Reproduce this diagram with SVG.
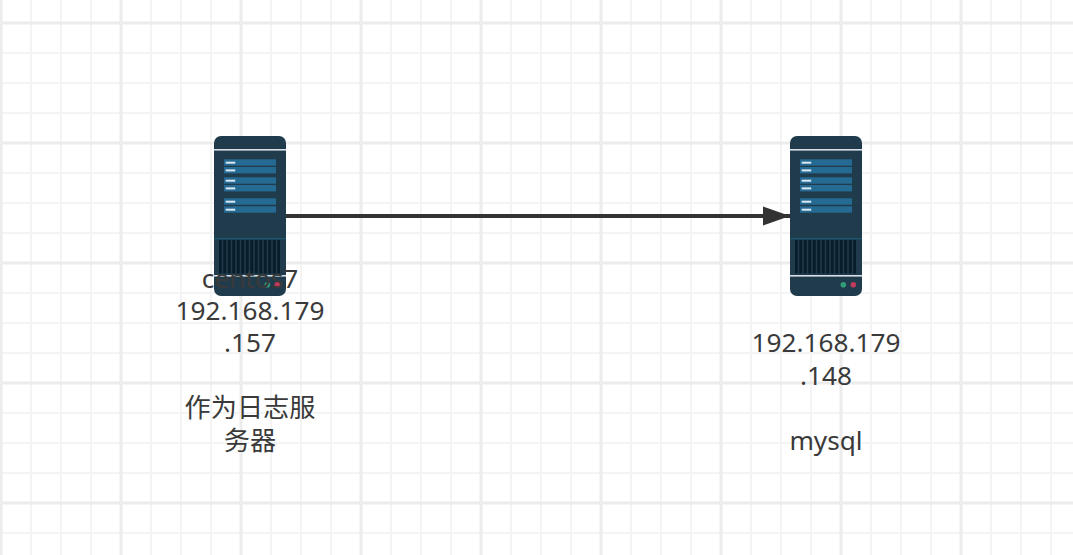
<svg xmlns="http://www.w3.org/2000/svg" width="1073" height="555" viewBox="0 0 1073 555">
<style>
.minor{stroke:#f4f4f4;stroke-width:2;fill:none}
.major{stroke:#ececec;stroke-width:3;fill:none}
.case{fill:#203c4c}
.bar{fill:#256a93}
.tick{fill:#dbe9f2}
.sep{fill:#d7dfe5}
.vent{fill:#081d2c}
.label{font-family:"Noto Sans","Noto Sans CJK SC",sans-serif;font-size:26.2px;fill:#3a3a3a;text-anchor:middle}
</style>
<defs>
<g id="srv">
<rect class="case" x="0" y="0" width="72" height="160" rx="7"/>
<rect class="sep" x="0" y="13" width="72" height="1.6"/>
<g id="bars">
<rect class="bar" x="10" y="23.300" width="52" height="6.400"/><rect class="tick" x="11.700" y="25.700" width="9.500" height="2"/>
<rect class="bar" x="10" y="31" width="52" height="6.400"/><rect class="tick" x="11.700" y="33.400" width="9.500" height="2"/>
<rect class="bar" x="10" y="41.300" width="52" height="6.400"/><rect class="tick" x="11.700" y="43.700" width="9.500" height="2"/>
<rect class="bar" x="10" y="49" width="52" height="6.400"/><rect class="tick" x="11.700" y="51.400" width="9.500" height="2"/>
<rect class="bar" x="10" y="62.300" width="52" height="6.400"/><rect class="tick" x="11.700" y="64.700" width="9.500" height="2"/>
<rect class="bar" x="10" y="70.300" width="52" height="6.400"/><rect class="tick" x="11.700" y="72.700" width="9.500" height="2"/>
</g>
<rect x="0" y="102" width="72" height="1.200" fill="#1d5673"/>
<rect class="vent" x="5" y="104" width="61" height="33.500"/>
<path d="M8.500 104V138M13 104V138M17.500 104V138M22 104V138M26.500 104V138M31 104V138M35.500 104V138M40 104V138M44.500 104V138M49 104V138M53.500 104V138M58 104V138M62.500 104V138" stroke="#203c4c" stroke-width="1.500" fill="none"/>
<rect class="sep" x="0" y="139" width="72" height="1.600"/>
<circle cx="53.300" cy="148.700" r="2.800" fill="#2f9e77"/>
<circle cx="63.300" cy="148.700" r="2.800" fill="#c0395a"/>
</g>
<marker id="arr" markerUnits="userSpaceOnUse" markerWidth="28" markerHeight="20" refX="27" refY="10" orient="auto">
<path d="M0 0.500L27 10L0 19.500Z" fill="#333"/>
</marker>
</defs>
<rect width="1073" height="555" fill="#fff"/>
<g id="grid">
<path class="minor" d="M31 0V555M61 0V555M91 0V555M151 0V555M181 0V555M211 0V555M271 0V555M301 0V555M331 0V555M391 0V555M421 0V555M451 0V555M511 0V555M541 0V555M571 0V555M631 0V555M661 0V555M691 0V555M751 0V555M781 0V555M811 0V555M871 0V555M901 0V555M931 0V555M991 0V555M1021 0V555M1051 0V555"/>
<path class="minor" d="M0 53H1073M0 83H1073M0 113H1073M0 173H1073M0 203H1073M0 233H1073M0 293H1073M0 323H1073M0 353H1073M0 413H1073M0 443H1073M0 473H1073M0 533H1073"/>
<path class="major" d="M1 0V555M121 0V555M241 0V555M361 0V555M481 0V555M601 0V555M721 0V555M841 0V555M961 0V555"/>
<path class="major" d="M0 23H1073M0 143H1073M0 263H1073M0 383H1073M0 503H1073"/>
</g>
<g id="connectors">
<path d="M286 216H790" stroke="#333" stroke-width="4" fill="none" marker-end="url(#arr)"/>
</g>
<g id="node-centos"><use href="#srv" x="214" y="136"/>
<text class="label" x="250" y="288">centos7</text>
<text class="label" x="250" y="320">192.168.179</text>
<text class="label" x="250" y="352">.157</text>
<text class="label" x="250" y="417">作为日志服</text>
<text class="label" x="250" y="450">务器</text>
</g>
<g id="node-mysql"><use href="#srv" x="790" y="136"/>
<text class="label" x="826" y="352">192.168.179</text>
<text class="label" x="826" y="385">.148</text>
<text class="label" x="826" y="450">mysql</text>
</g>
</svg>
